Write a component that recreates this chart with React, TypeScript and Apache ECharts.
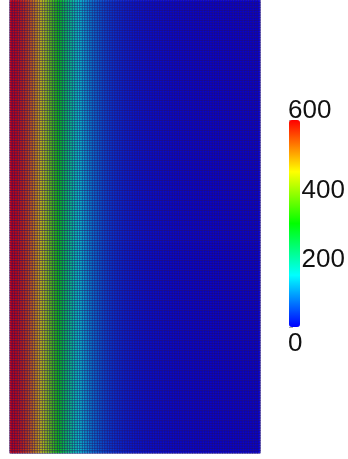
import React, { useEffect, useRef } from "react";
import * as echarts from "echarts";

// Value per column (left to right, 2.5px columns)
const columnValues = [
  600, 598, 594, 588, 580, 570, 558, 545, 530, 512,
  494, 474, 454, 432, 410, 388, 365, 342, 320, 298,
  277, 257, 238, 220, 202, 186, 170, 156, 142, 129,
  117, 106, 96, 87, 79, 71, 64, 58, 52, 47,
  42, 38, 34, 31, 28, 25, 23, 21, 19, 17,
  15, 14, 13, 12, 11, 10, 9, 8.5, 8, 7.5,
  7, 6.5, 6, 5.5, 5, 4.5, 4, 3.8, 3.5, 3.2,
  3, 2.8, 2.5, 2.2, 2, 1.8, 1.6, 1.4, 1.2, 1,
  0.9, 0.8, 0.7, 0.6, 0.5, 0.4, 0.3, 0.2, 0.1, 0,
  0, 0, 0, 0, 0, 0, 0, 0, 0, 0,
];
const rowCount = 181;
const colorStops = ["#0000ff", "#00ffff", "#00ff00", "#ffff00", "#ff0000"];
const scaleMin = 0;
const scaleMax = 600;
const topLabel = "600";
const bottomLabel = "0";

export default function App() {
  const ref = useRef<HTMLDivElement>(null);
  useEffect(() => {
    if (!ref.current) return;
    const chart = echarts.init(ref.current, undefined, { renderer: "svg" });
    const xCats = columnValues.map((_, i) => String(i));
    const yCats = Array.from({ length: rowCount }, (_, j) => String(j));
    const data: number[][] = [];
    for (let j = 0; j < rowCount; j++) {
      for (let i = 0; i < columnValues.length; i++) {
        data.push([i, j, columnValues[i]]);
      }
    }
    chart.setOption({
      animation: false,
      grid: [
        {
          left: 10,
          top: 0,
          width: 250,
          height: 453,
          show: true,
          backgroundColor: "#08042a",
          borderColor: "#b8b8e8",
          borderWidth: 1,
        },
        { left: 289, top: 120, width: 11, height: 207 },
      ],
      xAxis: [
        { type: "category", data: xCats, show: false, gridIndex: 0 },
        { type: "value", show: false, gridIndex: 1 },
      ],
      yAxis: [
        { type: "category", data: yCats, show: false, gridIndex: 0 },
        {
          type: "value",
          gridIndex: 1,
          position: "right",
          min: scaleMin,
          max: scaleMax,
          interval: 200,
          axisLine: { show: false },
          splitLine: { show: false },
          axisTick: { show: true, length: 4, lineStyle: { color: "#aaaaaa", width: 1 } },
          minorTick: { show: true, splitNumber: 8, length: 4, lineStyle: { color: "#aaaaaa", width: 1 } },
          axisLabel: {
            margin: 2,
            fontSize: 26,
            fontFamily: "Liberation Sans",
            color: "#111",
            formatter: (v: number) => (v === scaleMin || v === scaleMax ? "" : String(v)),
          },
        },
      ],
      visualMap: {
        type: "continuous",
        seriesIndex: 0,
        dimension: 2,
        min: scaleMin,
        max: scaleMax,
        left: 289,
        top: 120,
        itemWidth: 11,
        itemHeight: 207,
        padding: 0,
        calculable: false,
        text: null,
        inRange: { color: colorStops },
      },
      graphic: [
        {
          type: "text",
          left: 288,
          top: 96,
          style: { text: topLabel, fontSize: 26, fontFamily: "Liberation Sans", fill: "#111" },
        },
        {
          type: "text",
          left: 288,
          top: 329,
          style: { text: bottomLabel, fontSize: 26, fontFamily: "Liberation Sans", fill: "#111" },
        },
      ],
      series: [
        {
          type: "heatmap",
          xAxisIndex: 0,
          yAxisIndex: 0,
          data,
          progressive: 0,
          itemStyle: { opacity: 0.78, borderColor: "rgba(40,20,100,0.7)", borderWidth: 1 },
          emphasis: { disabled: true },
        },
      ],
    });
    return () => chart.dispose();
  }, []);
  return (
    <div
      ref={ref}
      style={{ position: "fixed", left: 0, top: 0, width: 348, height: 459 }}
    />
  );
}
